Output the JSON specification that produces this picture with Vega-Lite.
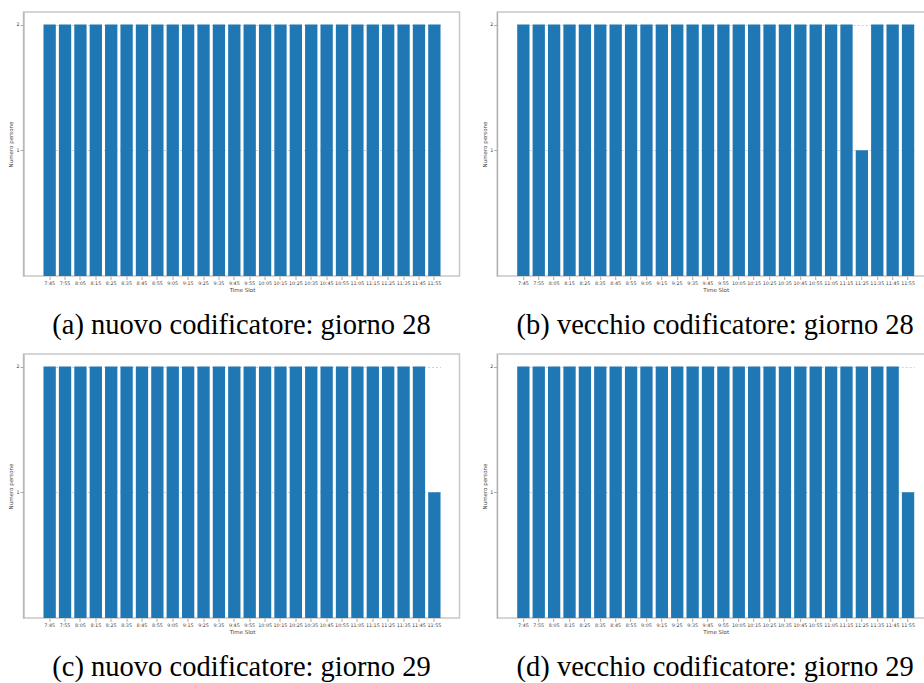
{
  "$schema": "https://vega.github.io/schema/vega-lite/v6.json",
  "padding": {"left": 7.5, "top": 11, "right": 0, "bottom": 0},
  "background": "white",
  "config": {
    "view": {"stroke": "#c8c8c8", "strokeWidth": 1.5},
    "axis": {
      "labelFont": "DejaVu Sans", "titleFont": "DejaVu Sans",
      "labelFontSize": 4.8, "titleFontSize": 5.5, "titleFontWeight": "normal",
      "labelColor": "#444", "titleColor": "#444",
      "domainColor": "#aaa", "tickColor": "#aaa", "tickSize": 3.5,
      "gridColor": "#d0d0d0", "gridDash": [2, 2], "labelPadding": 1, "titlePadding": 2
    },
    "axisX": {"domain": false},
    "title": {"font": "Liberation Serif", "fontSize": 28.5, "fontWeight": "normal", "color": "#000", "offset": 18}
  },
  "datasets": {
    "d": [
      {"panel": "a", "slot": "7:45", "persone": 2}, {"panel": "a", "slot": "7:55", "persone": 2}, {"panel": "a", "slot": "8:05", "persone": 2}, {"panel": "a", "slot": "8:15", "persone": 2}, {"panel": "a", "slot": "8:25", "persone": 2}, {"panel": "a", "slot": "8:35", "persone": 2}, {"panel": "a", "slot": "8:45", "persone": 2}, {"panel": "a", "slot": "8:55", "persone": 2}, {"panel": "a", "slot": "9:05", "persone": 2}, {"panel": "a", "slot": "9:15", "persone": 2}, {"panel": "a", "slot": "9:25", "persone": 2}, {"panel": "a", "slot": "9:35", "persone": 2}, {"panel": "a", "slot": "9:45", "persone": 2}, {"panel": "a", "slot": "9:55", "persone": 2}, {"panel": "a", "slot": "10:05", "persone": 2}, {"panel": "a", "slot": "10:15", "persone": 2}, {"panel": "a", "slot": "10:25", "persone": 2}, {"panel": "a", "slot": "10:35", "persone": 2}, {"panel": "a", "slot": "10:45", "persone": 2}, {"panel": "a", "slot": "10:55", "persone": 2}, {"panel": "a", "slot": "11:05", "persone": 2}, {"panel": "a", "slot": "11:15", "persone": 2}, {"panel": "a", "slot": "11:25", "persone": 2}, {"panel": "a", "slot": "11:35", "persone": 2}, {"panel": "a", "slot": "11:45", "persone": 2}, {"panel": "a", "slot": "11:55", "persone": 2},
      {"panel": "b", "slot": "7:45", "persone": 2}, {"panel": "b", "slot": "7:55", "persone": 2}, {"panel": "b", "slot": "8:05", "persone": 2}, {"panel": "b", "slot": "8:15", "persone": 2}, {"panel": "b", "slot": "8:25", "persone": 2}, {"panel": "b", "slot": "8:35", "persone": 2}, {"panel": "b", "slot": "8:45", "persone": 2}, {"panel": "b", "slot": "8:55", "persone": 2}, {"panel": "b", "slot": "9:05", "persone": 2}, {"panel": "b", "slot": "9:15", "persone": 2}, {"panel": "b", "slot": "9:25", "persone": 2}, {"panel": "b", "slot": "9:35", "persone": 2}, {"panel": "b", "slot": "9:45", "persone": 2}, {"panel": "b", "slot": "9:55", "persone": 2}, {"panel": "b", "slot": "10:05", "persone": 2}, {"panel": "b", "slot": "10:15", "persone": 2}, {"panel": "b", "slot": "10:25", "persone": 2}, {"panel": "b", "slot": "10:35", "persone": 2}, {"panel": "b", "slot": "10:45", "persone": 2}, {"panel": "b", "slot": "10:55", "persone": 2}, {"panel": "b", "slot": "11:05", "persone": 2}, {"panel": "b", "slot": "11:15", "persone": 2}, {"panel": "b", "slot": "11:25", "persone": 1}, {"panel": "b", "slot": "11:35", "persone": 2}, {"panel": "b", "slot": "11:45", "persone": 2}, {"panel": "b", "slot": "11:55", "persone": 2},
      {"panel": "c", "slot": "7:45", "persone": 2}, {"panel": "c", "slot": "7:55", "persone": 2}, {"panel": "c", "slot": "8:05", "persone": 2}, {"panel": "c", "slot": "8:15", "persone": 2}, {"panel": "c", "slot": "8:25", "persone": 2}, {"panel": "c", "slot": "8:35", "persone": 2}, {"panel": "c", "slot": "8:45", "persone": 2}, {"panel": "c", "slot": "8:55", "persone": 2}, {"panel": "c", "slot": "9:05", "persone": 2}, {"panel": "c", "slot": "9:15", "persone": 2}, {"panel": "c", "slot": "9:25", "persone": 2}, {"panel": "c", "slot": "9:35", "persone": 2}, {"panel": "c", "slot": "9:45", "persone": 2}, {"panel": "c", "slot": "9:55", "persone": 2}, {"panel": "c", "slot": "10:05", "persone": 2}, {"panel": "c", "slot": "10:15", "persone": 2}, {"panel": "c", "slot": "10:25", "persone": 2}, {"panel": "c", "slot": "10:35", "persone": 2}, {"panel": "c", "slot": "10:45", "persone": 2}, {"panel": "c", "slot": "10:55", "persone": 2}, {"panel": "c", "slot": "11:05", "persone": 2}, {"panel": "c", "slot": "11:15", "persone": 2}, {"panel": "c", "slot": "11:25", "persone": 2}, {"panel": "c", "slot": "11:35", "persone": 2}, {"panel": "c", "slot": "11:45", "persone": 2}, {"panel": "c", "slot": "11:55", "persone": 1},
      {"panel": "d", "slot": "7:45", "persone": 2}, {"panel": "d", "slot": "7:55", "persone": 2}, {"panel": "d", "slot": "8:05", "persone": 2}, {"panel": "d", "slot": "8:15", "persone": 2}, {"panel": "d", "slot": "8:25", "persone": 2}, {"panel": "d", "slot": "8:35", "persone": 2}, {"panel": "d", "slot": "8:45", "persone": 2}, {"panel": "d", "slot": "8:55", "persone": 2}, {"panel": "d", "slot": "9:05", "persone": 2}, {"panel": "d", "slot": "9:15", "persone": 2}, {"panel": "d", "slot": "9:25", "persone": 2}, {"panel": "d", "slot": "9:35", "persone": 2}, {"panel": "d", "slot": "9:45", "persone": 2}, {"panel": "d", "slot": "9:55", "persone": 2}, {"panel": "d", "slot": "10:05", "persone": 2}, {"panel": "d", "slot": "10:15", "persone": 2}, {"panel": "d", "slot": "10:25", "persone": 2}, {"panel": "d", "slot": "10:35", "persone": 2}, {"panel": "d", "slot": "10:45", "persone": 2}, {"panel": "d", "slot": "10:55", "persone": 2}, {"panel": "d", "slot": "11:05", "persone": 2}, {"panel": "d", "slot": "11:15", "persone": 2}, {"panel": "d", "slot": "11:25", "persone": 2}, {"panel": "d", "slot": "11:35", "persone": 2}, {"panel": "d", "slot": "11:45", "persone": 2}, {"panel": "d", "slot": "11:55", "persone": 1}
    ]
  },
  "columns": 2,
  "bounds": "flush",
  "spacing": {"row": 78, "column": 37.7},
  "concat": [
    {
      "title": {"text": "(a) nuovo codificatore: giorno 28", "orient": "bottom", "frame": "group"},
      "width": 436, "height": 264,
      "data": {"name": "d"},
      "transform": [{"filter": "datum.panel == 'a'"}],
      "mark": {"type": "bar", "color": "#1f77b4"},
      "encoding": {
        "x": {"field": "slot", "type": "ordinal", "sort": null, "title": "Time Slot", "scale": {"range": [20, 417], "paddingInner": 0.2, "paddingOuter": 0}, "axis": {"labelAngle": 0}},
        "y": {"field": "persone", "type": "quantitative", "title": "Numero persone", "scale": {"domain": [0, 2.1], "nice": false}, "axis": {"values": [1, 2], "grid": true}}
      }
    },
    {
      "title": {"text": "(b) vecchio codificatore: giorno 28", "orient": "bottom", "frame": "group"},
      "width": 436, "height": 264,
      "data": {"name": "d"},
      "transform": [{"filter": "datum.panel == 'b'"}],
      "mark": {"type": "bar", "color": "#1f77b4"},
      "encoding": {
        "x": {"field": "slot", "type": "ordinal", "sort": null, "title": "Time Slot", "scale": {"range": [20, 417], "paddingInner": 0.2, "paddingOuter": 0}, "axis": {"labelAngle": 0}},
        "y": {"field": "persone", "type": "quantitative", "title": "Numero persone", "scale": {"domain": [0, 2.1], "nice": false}, "axis": {"values": [1, 2], "grid": true}}
      }
    },
    {
      "title": {"text": "(c) nuovo codificatore: giorno 29", "orient": "bottom", "frame": "group"},
      "width": 436, "height": 264,
      "data": {"name": "d"},
      "transform": [{"filter": "datum.panel == 'c'"}],
      "mark": {"type": "bar", "color": "#1f77b4"},
      "encoding": {
        "x": {"field": "slot", "type": "ordinal", "sort": null, "title": "Time Slot", "scale": {"range": [20, 417], "paddingInner": 0.2, "paddingOuter": 0}, "axis": {"labelAngle": 0}},
        "y": {"field": "persone", "type": "quantitative", "title": "Numero persone", "scale": {"domain": [0, 2.1], "nice": false}, "axis": {"values": [1, 2], "grid": true}}
      }
    },
    {
      "title": {"text": "(d) vecchio codificatore: giorno 29", "orient": "bottom", "frame": "group"},
      "width": 436, "height": 264,
      "data": {"name": "d"},
      "transform": [{"filter": "datum.panel == 'd'"}],
      "mark": {"type": "bar", "color": "#1f77b4"},
      "encoding": {
        "x": {"field": "slot", "type": "ordinal", "sort": null, "title": "Time Slot", "scale": {"range": [20, 417], "paddingInner": 0.2, "paddingOuter": 0}, "axis": {"labelAngle": 0}},
        "y": {"field": "persone", "type": "quantitative", "title": "Numero persone", "scale": {"domain": [0, 2.1], "nice": false}, "axis": {"values": [1, 2], "grid": true}}
      }
    }
  ]
}
